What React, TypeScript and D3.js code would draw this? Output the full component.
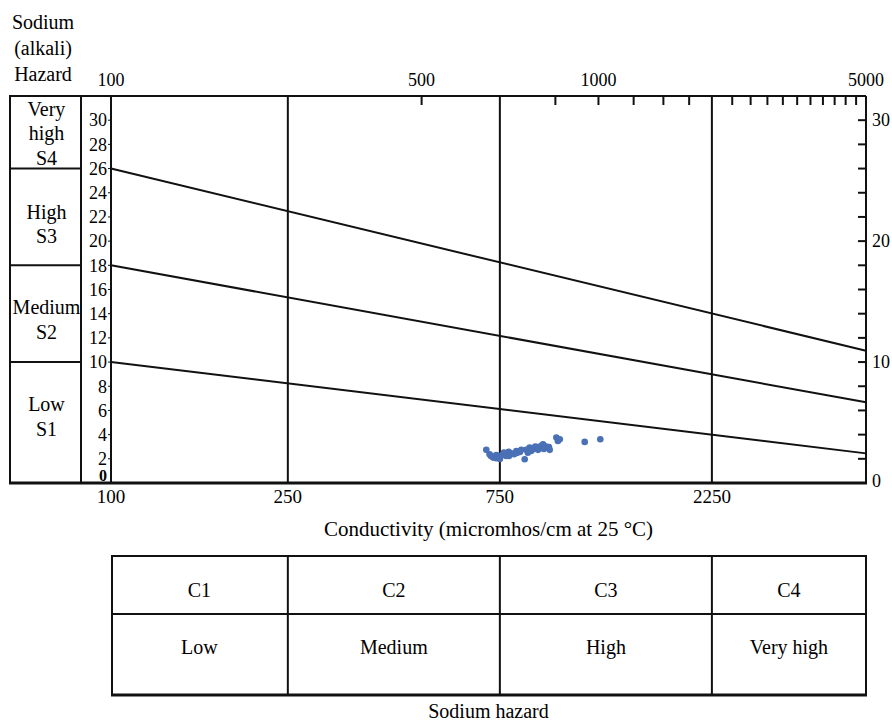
import * as d3 from "d3";

const WIDTH = 892;
const HEIGHT = 722;
const FONT = "Liberation Serif, Times New Roman, DejaVu Serif, serif";
const BLUE = "#4a70b5";

// measured samples: conductivity (µmhos/cm) and SAR
const conductivity = [
  699, 711, 716, 724, 736, 736, 743, 750, 758, 766, 775, 785, 786, 796, 807, 817, 819, 832,
  838, 853, 860, 867, 875, 882, 890, 901, 907, 914, 929, 938, 942, 954, 967, 971, 1005, 1013,
  1023, 1164, 1262,
];
const sar = [
  2.74, 2.38, 2.24, 2.1, 2.05, 2.32, 2.18, 1.99, 2.3, 2.51, 2.24, 2.57, 2.24, 2.46, 2.38, 2.65,
  2.49, 2.57, 2.74, 1.97, 2.74, 2.51, 2.93, 2.65, 2.79, 3.01, 2.98, 2.74, 3.07, 3.21, 2.82, 3.01,
  2.98, 2.74, 3.76, 3.48, 3.62, 3.4, 3.62,
];

// class boundary lines (SAR at 100 and at 5000 µmhos/cm)
const boundaryEnds = [100, 5000];
const boundarySar = [
  [26, 10.94],
  [18, 6.67],
  [10, 2.45],
];

// salinity classes
const cClassBreaks = [100, 250, 750, 2250, 5000];
const cClassNames = ["C1", "C2", "C3", "C4"];
const cClassLabels = ["Low", "Medium", "High", "Very high"];

// sodium classes
const sClassBreaks = [0, 10, 18, 26, 32];
const sClassLabels = [["Low", "S1"], ["Medium", "S2"], ["High", "S3"], ["Very", "high", "S4"]];

const bottomTicks = [100, 250, 750, 2250];
const topMinorTicks = [
  500, 1000, 1250, 1500, 1750, 2000, 2500, 2750, 3000, 3250, 3500, 3750, 4000, 4250, 4500, 4750,
];
const topLabels = ["100", "500", "1000", "5000"];
const topLabelAt = [100, 500, 1250, 5000];
const leftTicks = [0, 2, 4, 6, 8, 10, 12, 14, 16, 18, 20, 22, 24, 26, 28, 30];
const rightTicks = [2, 4, 6, 8, 10, 12, 14, 16, 18, 20, 22, 24, 26, 28, 30];
const rightLabels = [0, 10, 20, 30];

const BOX_L = 10;
const BOX_R = 81;
// small vertical nudge of the class text inside each box (S1..S4)
const sLabelNudge = [-6, 6, 7, 1];

export default function App() {
  const x = d3.scaleLog().domain([100, 5000]).range([111, 866]);
  const y = d3.scaleLinear().domain([0, 32]).range([483, 96]);

  const left = x(100);
  const right = x(5000);
  const top = y(32);
  const bottom = y(0);

  const tableTop = 556;
  const tableMid = 614;
  const tableBottom = 695;

  const line = d3
    .line<[number, number]>()
    .x((d) => x(d[0]))
    .y((d) => y(d[1]));

  return (
    <svg
      width={WIDTH}
      height={HEIGHT}
      style={{ position: "absolute", left: 0, top: 0, background: "#fff", fontFamily: FONT }}
    >
      {/* top-left title */}
      {["Sodium", "(alkali)", "Hazard"].map((t, i) => (
        <text key={t} x={43} y={22 + i * 26} dy="0.35em" textAnchor="middle" fontSize={20}>
          {t}
        </text>
      ))}

      {/* left sodium class boxes */}
      <line x1={BOX_L} x2={BOX_L} y1={top} y2={bottom} stroke="#111" strokeWidth={2} />
      <line x1={BOX_R} x2={BOX_R} y1={top} y2={bottom} stroke="#111" strokeWidth={2} />
      {sClassBreaks.slice(1, -1).map((b) => (
        <line key={b} x1={BOX_L} x2={BOX_R} y1={y(b)} y2={y(b)} stroke="#111" strokeWidth={2} />
      ))}
      {sClassLabels.map((lines, i) => {
        const mid = y((sClassBreaks[i] + sClassBreaks[i + 1]) / 2) + sLabelNudge[i];
        const start = mid - ((lines.length - 1) * 24.5) / 2;
        return lines.map((t, j) => (
          <text
            key={i + "-" + j}
            x={(BOX_L + BOX_R) / 2 + 1}
            y={start + j * 24.5}
            dy="0.35em"
            textAnchor="middle"
            fontSize={20}
          >
            {t}
          </text>
        ));
      })}

      {/* frame */}
      <line x1={BOX_L - 1} x2={right} y1={top} y2={top} stroke="#111" strokeWidth={2} />
      <line x1={BOX_L - 1} x2={right + 1} y1={bottom} y2={bottom} stroke="#111" strokeWidth={3} />
      <line x1={left} x2={left} y1={top} y2={bottom} stroke="#111" strokeWidth={2} />
      <line x1={right} x2={right} y1={top} y2={bottom} stroke="#111" strokeWidth={2} />

      {/* vertical class lines */}
      {cClassBreaks.slice(1, -1).map((b) => (
        <line key={b} x1={x(b)} x2={x(b)} y1={top} y2={bottom} stroke="#111" strokeWidth={2} />
      ))}

      {/* top axis */}
      {topMinorTicks.map((t) => (
        <line key={t} x1={x(t)} x2={x(t)} y1={top} y2={top + 9} stroke="#111" strokeWidth={2} />
      ))}
      {topLabels.map((t, i) => (
        <text key={t} x={x(topLabelAt[i])} y={top - 10} textAnchor="middle" fontSize={18}>
          {t}
        </text>
      ))}

      {/* left axis */}
      {leftTicks.map((t) => (
        <g key={t}>
          <line x1={left - 3} x2={left} y1={y(t)} y2={y(t)} stroke="#111" strokeWidth={1} />
          <text
            x={left - 4}
            y={t === 0 ? y(t) - 8 : y(t)}
            dy="0.35em"
            textAnchor="end"
            fontSize={t === 0 ? 16 : 18}
            fontWeight={t === 0 ? "bold" : "normal"}
          >
            {t}
          </text>
        </g>
      ))}

      {/* right axis */}
      {rightTicks.map((t) => (
        <line key={t} x1={right - 8} x2={right} y1={y(t)} y2={y(t)} stroke="#111" strokeWidth={2} />
      ))}
      {rightLabels.map((t) => (
        <text key={t} x={right + 6} y={t === 0 ? y(t) - 2 : y(t)} dy="0.35em" fontSize={18}>
          {t}
        </text>
      ))}

      {/* sodium hazard boundary lines */}
      {boundarySar.map((s, i) => (
        <path
          key={i}
          d={line(boundaryEnds.map((c, k) => [c, s[k]] as [number, number])) || ""}
          fill="none"
          stroke="#111"
          strokeWidth={2}
        />
      ))}

      {/* samples */}
      {conductivity.map((c, i) => (
        <circle key={i} cx={x(c)} cy={y(sar[i])} r={3.3} fill={BLUE} />
      ))}

      {/* bottom axis */}
      {bottomTicks.map((t) => (
        <text key={t} x={x(t)} y={bottom + 13} dy="0.35em" textAnchor="middle" fontSize={19}>
          {t}
        </text>
      ))}
      <text x={(left + right) / 2} y={529} dy="0.35em" textAnchor="middle" fontSize={21}>
        Conductivity (micromhos/cm at 25 °C)
      </text>

      {/* salinity table */}
      <rect
        x={left + 1}
        y={tableTop}
        width={right - left - 1}
        height={tableBottom - tableTop}
        fill="none"
        stroke="#111"
        strokeWidth={2}
      />
      <line x1={left + 1} x2={right} y1={tableMid} y2={tableMid} stroke="#111" strokeWidth={2} />
      <line x1={left} x2={right + 1} y1={tableBottom} y2={tableBottom} stroke="#111" strokeWidth={3} />
      {cClassBreaks.slice(1, -1).map((b) => (
        <line key={b} x1={x(b)} x2={x(b)} y1={tableTop} y2={tableBottom} stroke="#111" strokeWidth={2} />
      ))}
      {cClassNames.map((n, i) => {
        const cx = (x(cClassBreaks[i]) + x(cClassBreaks[i + 1])) / 2;
        return (
          <g key={n}>
            <text x={cx} y={590} dy="0.35em" textAnchor="middle" fontSize={20}>
              {n}
            </text>
            <text x={cx} y={647} dy="0.35em" textAnchor="middle" fontSize={20}>
              {cClassLabels[i]}
            </text>
          </g>
        );
      })}
      <text x={(left + right) / 2} y={711} dy="0.35em" textAnchor="middle" fontSize={20}>
        Sodium hazard
      </text>
    </svg>
  );
}
